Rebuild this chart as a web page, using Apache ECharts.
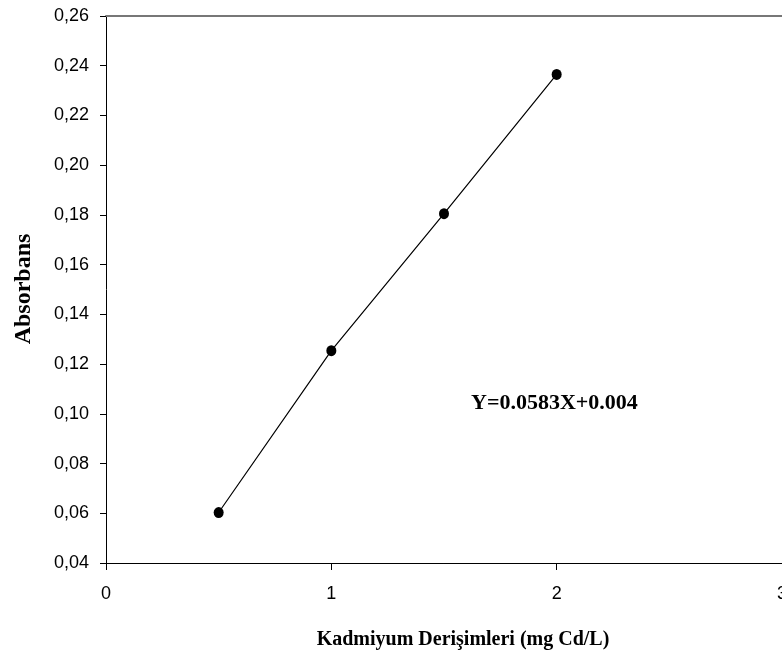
<!DOCTYPE html>
<html>
<head>
<meta charset="utf-8">
<script src="https://cdn.jsdelivr.net/npm/echarts@6/dist/echarts.min.js"></script>
<style>
html,body{margin:0;padding:0;background:#fff;}
#chart{width:782px;height:659px;}
</style>
</head>
<body>
<div id="chart"></div>
<script>
// Data
var concentrations = [0.5, 1.0, 1.5, 2.0];
var absorbances = [0.0603, 0.1254, 0.1805, 0.2365];
var xTicks = [0, 1, 2, 3];
var yMin = 0.04, yMax = 0.26, yStep = 0.02;
var xTitle = 'Kadmiyum Derişimleri (mg Cd/L)';
var yTitle = 'Absorbans';
var equationText = 'Y=0.0583X+0.004';

var chart = echarts.init(document.getElementById('chart'), null, {renderer: 'canvas'});
var serif = '"Liberation Serif", "Times New Roman", serif';
var sans = '"Liberation Sans", Arial, sans-serif';

var option = {
  animation: false,
  backgroundColor: '#ffffff',
  grid: {left: 106, top: 16, right: 0, bottom: 96, containLabel: false, outerBoundsMode: 'none'},
  xAxis: [{
    type: 'value',
    min: xTicks[0], max: xTicks[xTicks.length - 1], interval: 1,
    axisLine: {show: true, onZero: false, lineStyle: {color: '#000', width: 1}},
    axisTick: {show: true, inside: false, length: 7, lineStyle: {color: '#000'}},
    axisLabel: {show: true, margin: 22, color: '#000', fontFamily: sans, fontSize: 18, hideOverlap: false},
    splitLine: {show: false}
  }, {
    type: 'value', position: 'top',
    min: xTicks[0], max: xTicks[xTicks.length - 1],
    axisLine: {show: true, onZero: false, lineStyle: {color: '#777', width: 2}},
    axisTick: {show: false}, axisLabel: {show: false}, splitLine: {show: false}
  }],
  yAxis: {
    type: 'value',
    min: yMin, max: yMax, interval: yStep,
    axisLine: {show: true, onZero: false, lineStyle: {color: '#000', width: 1}},
    axisTick: {show: true, inside: false, length: 6, lineStyle: {color: '#000'}},
    axisLabel: {show: true, margin: 17, color: '#000', fontFamily: sans, fontSize: 18,
      formatter: function (v) { return v.toFixed(2).replace('.', ','); }},
    splitLine: {show: false}
  },
  series: [{
    type: 'line',
    xAxisIndex: 0,
    data: concentrations.map(function (c, i) { return [c, absorbances[i]]; }),
    symbol: 'circle',
    symbolSize: [10, 11],
    itemStyle: {color: '#000'},
    lineStyle: {color: '#000', width: 1.2},
    label: {show: false}
  }],
  graphic: [
    {type: 'text', left: 471, top: 392,
      style: {text: equationText, fill: '#000', font: 'bold 22px ' + serif}},
    {type: 'text', x: 463, y: 640,
      style: {text: xTitle, fill: '#000', font: 'bold 20px ' + serif, textAlign: 'center', textVerticalAlign: 'middle'}},
    {type: 'text', x: 24, y: 289, rotation: Math.PI / 2,
      style: {text: yTitle, fill: '#000', font: 'bold 24px ' + serif, textAlign: 'center', textVerticalAlign: 'middle'}}
  ]
};
chart.setOption(option);
</script>
</body>
</html>
